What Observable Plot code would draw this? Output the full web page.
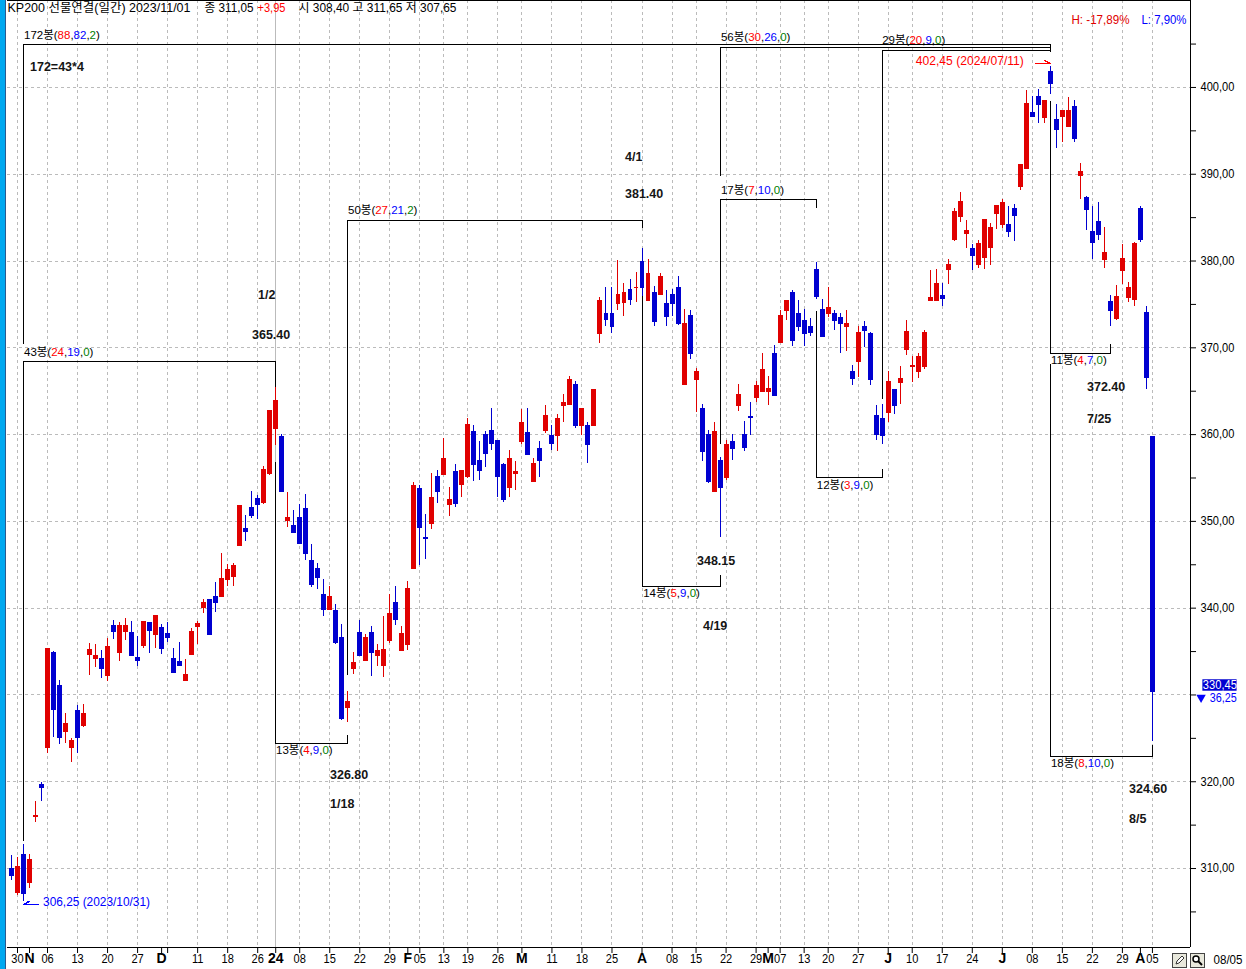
<!DOCTYPE html>
<html lang="ko">
<head>
<meta charset="utf-8">
<style>
html,body{margin:0;padding:0;background:#fff;overflow:hidden}
#wrap{position:relative;width:1246px;height:969px}
#stripe{position:absolute;left:0;top:0;width:5px;height:969px;background:#00a8f0;border-right:1px solid #2a5a90}
#tools{position:absolute;left:1172px;top:953px}
</style>
<script src="https://cdn.jsdelivr.net/npm/d3@7"></script>
<script src="https://cdn.jsdelivr.net/npm/@observablehq/plot@0.6"></script>
</head>
<body>
<div id="wrap"><div id="stripe"></div></div>
<script>
const opens=[310,307.2,311.65,308.4,316,319.7,324,334.9,331.1,325.8,
324,328.25,326.5,334.7,334.25,334.25,332.25,338.05,334.9,337.35,
337.2,334.35,335.75,338.4,337,337.8,337.1,334.25,333.9,331.7,
334.7,337.9,340.05,341.05,341.3,341.3,343.25,343.7,347.2,349.15,
351.55,352.6,352.15,355.5,360.65,359.75,350.15,349.5,350.4,351.45,
345.45,344.55,341.55,339.9,339.7,336.6,328.6,333,337.15,333.95,
337.15,334.6,333.45,336.25,340.6,335.1,335.8,344.55,353.75,348.1,
349.7,355.2,355.45,352,355.7,354.3,355.2,360.4,357.05,360.05,
360.5,359.35,356.5,353.85,355.55,359.15,360.2,354.55,358.35,360.5,
359.95,359.95,363.4,363.5,365.8,361.1,361.1,361,371.7,374,
373.9,375.05,375.25,376.75,376.9,380,375.4,376.4,376.2,375.05,
376.1,377,365.8,373.75,366.4,363.05,360.05,353.5,357.05,355.1,
359.15,363.3,360.05,362.05,364.3,365,365,369.4,370.65,374.35,
376.4,374,373.2,372.5,379.05,374.45,374,373.9,373.55,372.5,
367.3,368.45,372.5,371.7,362.25,361.8,362.6,365.15,365.95,369.75,
367.8,367.3,367.9,375.5,375.5,376.05,379.05,382.5,385.15,383.2,
381.45,379.6,380.4,381.6,385.5,384.25,384.25,386.1,388.6,390.7,
397.15,399,396.5,401.8,396.35,396.6,395.55,397.85,389.9,387.35,
383.45,384.6,380.2,375.35,373.4,378.9,375.8,375.6,386.1,374.1,
359.75];
const closes=[309.15,310.25,307.1,311.05,316.1,319.35,335.4,328.35,325.05,326.75,
324.8,325.05,327.9,335.25,334.6,333.1,335.6,337.35,338.05,338.05,
334.6,334,338.5,337.45,339.2,335.4,336.65,332.6,333.45,332.4,
337.35,338.25,340.6,336.95,340.7,343.4,344.5,344.9,351.8,348.8,
350.65,352,355.95,362.75,363.9,353.5,350.4,348.7,347.4,346.25,
342.7,343.5,339.9,341.4,336,327.25,329.2,333.7,334.5,336.6,
334.85,335.1,335.2,339.35,338.65,337.05,342.25,354.1,349.25,348,
352.8,353.4,357.3,352.55,352.1,355.9,361.2,356.6,355.9,357.85,
359,355.2,352.55,357.3,355.8,361.45,357.65,356.7,357.05,362.25,
359,361.8,363.65,366.4,361.1,363.05,358.9,365.15,375.5,373.3,
372.5,376.1,376.4,375.6,377,377,378.6,373,378.25,373.65,
375.15,372.75,372.85,369.3,367.3,358.1,354.65,360.4,353.95,358.9,
358.45,364.65,358.55,361.95,365.7,367.55,365.35,364.45,373.75,375.4,
370.9,372.4,371.6,371.8,375.95,371.35,374.7,373.2,372.85,372.85,
366.5,371.8,372.05,366.3,360.05,359.95,366.15,363.3,366.5,371.9,
368,368.95,371.8,375.85,377.45,375.7,379.65,385.75,386.9,383.55,
380.65,382.05,384.8,383.9,386.4,386.75,383.4,385.25,391.15,398.1,
396.7,398,398.45,400.5,395.2,397.3,397.3,394.15,390.35,385.95,
382.15,383.1,381,374.3,375.9,380.3,376.95,382.05,382.5,366.6,
330.45];
const highs=[311.5,311.25,312.75,311.65,317.7,319.9,335.4,335.05,331.7,327.9,
325,328.8,328.95,335.95,335.85,335.15,336.55,338.6,338.4,338.85,
338.5,336.75,338.5,338.4,339.2,338.15,338.4,335.4,336,334.1,
337.7,338.5,341.05,341.05,343,346.35,345,345.1,351.8,350.65,
353.4,352.95,356.3,362.75,365.4,360,353.3,351.2,352,353.05,
347.3,345.2,343.25,342.55,340.4,338.1,330.35,334.85,338.55,336.95,
337.85,335.8,339,341.55,342.55,337.85,343.05,354.45,354.1,350.85,
355.55,355.9,359.5,353.85,356.6,355.9,361.8,361,359.15,360.3,
363.05,359.35,356.7,358.2,356.95,362.85,362.95,357.3,359.25,363.4,
361.1,362.35,364.65,366.75,366.15,363.05,361.35,365.15,375.85,377,
376.9,380.1,377.45,377.9,378.7,381.4,380.2,377.1,378.6,376.55,
376.75,378.25,374.45,374.25,367.65,363.5,360.5,361.45,357.4,359.35,
360.05,365.8,361.55,363.65,366.15,369.3,366.65,370.3,374.25,375.5,
376.65,375.4,374.45,373.4,379.85,375.6,377,374.25,373.9,374.35,
368,372.5,373,371.8,363.4,363.5,367.3,365.15,367.9,373.2,
368.95,369.3,371.95,378.95,379.05,377.45,380.2,386,387.95,384.7,
381.95,382.4,384.8,384.35,386.4,387.1,386.3,386.55,391.15,399.6,
399,399.8,398.55,402.45,398,397.4,398.8,398.55,391.25,387.45,
386.3,386.75,383.9,376.05,377.2,381.9,377.55,382.15,386.3,374.75,
359.75];
const lows=[308.6,306.85,306.25,307.65,315.35,317.75,323.3,325.05,324.3,324.45,
322.25,323.3,326.3,332.25,333.15,331.95,331.6,336.4,333.9,336.3,
334.6,333.25,335.4,334.8,335.4,334.7,336.1,332.6,333.45,331.6,
334.7,335.85,339.35,336.8,339.45,341.3,342.45,342.45,347.2,347.65,
350.3,350.2,351.9,355.25,358.7,353.5,349.35,348.55,347.4,345.55,
342.35,342.1,339,339.8,335.8,327,326.8,332.3,334.4,333.95,
332.1,333.25,332,335.9,337.95,335.1,335.1,344.55,344.9,345.65,
349.1,352.1,355.35,350.6,351.65,352.8,354.9,354.65,354.75,356.25,
358.2,352.8,352.2,352.8,353.6,358.9,357.55,354.55,355,360.15,
358.2,358,361.45,363.4,360.75,359.85,356.7,361,370.55,372.5,
371.7,374.35,373.65,374.9,375.25,375.9,375.4,372.4,376.1,372.5,
373.65,372.6,365.8,368.6,362.6,356.85,354.4,353.5,348.15,354.75,
357.05,362.7,358.1,359.95,363.75,365,363.4,364.45,370.65,373.2,
370.2,371.9,370.1,371.35,375.6,371.25,373.55,372.05,369.3,369.6,
365.7,366.6,370,365.7,359.35,358.9,361.35,362.35,363.5,369.15,
365.95,366.5,367.45,375.5,375.5,374.8,377.25,382.25,384.45,381.45,
378.9,379.15,379.05,379.5,383.65,383.75,382.75,382.25,388.15,390.6,
396.6,395.8,395.9,399.15,393,393.7,395.45,393.7,387.1,383.55,
380.2,382.4,379.15,372.45,373.15,377.3,375.25,374.75,382.15,365.2,
324.6];

const weekTicks=[1,6,11,16,21,26,31,36,41,48,53,58,63,68,72,76,81,90,95,100,110,114,119,124,128,132,136,141,150,155,160,170,175,180,185,190];
const weekLabels=["30","06","13","20","27","","11","18","26","08","15","22","29","05","13","19","26","11","18","25","08","15","22","29","07","13","20","27","10","17","24","08","15","22","29","05"];
const monthTicks=[3,25,44,66,85,105,126,146,165,188];
const monthLabels=["N","D","24","F","M","A","M","J","J","A"];
const monthGrid=[85,105,146,165];
const yearLine=[44];
const priceMajor=[310,320,330,340,350,360,370,380,390,400];
const priceMinor=[305,315,325,335,345,355,365,375,385,395,405];

// bracket: start bar, start price, apex price, end bar, end price
const bracketStart=[2,2,44,56,105,118,118,134,145,173,173];
const bracketFrom=[370.5,313.25,356.8,332.3,376.05,358.9,389.85,374.2,364.1,398.4,368.1];
const bracketApex=[404.9,368.45,324.45,384.7,342.5,387.1,404.6,355,404.3,369.35,322.95];
const bracketEnd=[173,44,56,105,118,134,173,145,173,183,190];
const bracketTo=[404.1,365.4,325.35,383.75,343.8,386.1,404.1,356,404.1,370.4,324.2];

const countTexts=["172봉(88,82,2)","43봉(24,19,0)","50봉(27,21,2)","13봉(4,9,0)","14봉(5,9,0)","17봉(7,10,0)","56봉(30,26,0)","29봉(20,9,0)","12봉(3,9,0)","11봉(4,7,0)","18봉(8,10,0)"];
const countBars=[2.08,2.08,56.04,44.05,105.2,118.15,118.15,145,134.1,173.1,173.1];
const countPrices=[405.99,369.46,385.82,323.6,341.69,388.13,405.76,405.41,354.13,368.54,322.1];

const noteTexts=["172=43*4","1/2","365.40","326.80","1/18","4/1","381.40","348.15","4/19","372.40","7/25","324.60","8/5"];
const noteBars=[3.08,41.05,40.05,53.04,53.04,102.17,102.17,114.16,115.15,179.1,179.1,186.1,186.1];
const notePrices=[402.3,376.03,371.42,320.72,317.49,391.93,387.67,345.38,337.89,365.43,361.74,319.22,315.65];

const arrowBars=[[4.41,2.08,2.9],[170.6,173,172.1]];
const arrowPrices=[[305.85,305.85,306.2],[402.76,402.76,403.1]];
const UP="#e00000",DOWN="#0000d0";

const bars=closes.map((c,i)=>({i,o:opens[i],h:highs[i],l:lows[i],c,color:c>=opens[i]?UP:DOWN}));
const brackets=bracketStart.flatMap((s,k)=>[
 {k,b:s,p:bracketFrom[k]},{k,b:s,p:bracketApex[k]},{k,b:bracketEnd[k],p:bracketApex[k]},{k,b:bracketEnd[k],p:bracketTo[k]}]);
const counts=countTexts.map((t,k)=>({t,b:countBars[k],p:countPrices[k]}));
const notes=noteTexts.map((t,k)=>({t,b:noteBars[k],p:notePrices[k]}));
const arrows=arrowBars.flatMap((xs,k)=>xs.map((b,j)=>({k,b,p:arrowPrices[k][j]})));
const wFmt=d=>weekLabels[weekTicks.indexOf(d)];
const mFmt=d=>monthLabels[monthTicks.indexOf(d)];
const pFmt=d=>d===330?"":d3.format(".2f")(d).replace(".",",");
const FONT="'Liberation Sans','Noto Sans CJK KR',sans-serif";
const hdr=(t,dx,dy,fill)=>Plot.text([t],{frameAnchor:"top-left",dx,dy,fill,textAnchor:"start",lineAnchor:"middle",fontSize:12});
const widths={
 "KP200 선물연결(일간) 2023/11/01":183,"종 311,05":49,"+3,95":28,"시 308,40 고 311,65 저 307,65":158,
 "H: -17,89%":58,"L: 7,90%":45,"08/05":29,"306,25 (2023/10/31)":107,"402,45 (2024/07/11)":108,"330,45":34,"36,25":27
};

const svg=Plot.plot({
 width:1246,height:969,marginLeft:7,marginRight:56,marginTop:0,marginBottom:22,
 style:{background:"#fff",fontFamily:FONT,overflow:"visible",fontSize:"12px",color:"#000"},
 x:{domain:[-0.666,196.34],axis:null},
 y:{domain:[300.9,410.02],axis:null},
 marks:[
  Plot.ruleY(priceMajor,{stroke:"#bbb",strokeDasharray:"3,3",shapeRendering:"crispEdges"}),
  Plot.ruleX(weekTicks.concat(monthGrid),{stroke:"#bbb",strokeDasharray:"3,3",shapeRendering:"crispEdges"}),
  Plot.ruleX(yearLine,{stroke:"#bbb",shapeRendering:"crispEdges"}),
  Plot.line(brackets,{x:"b",y:"p",z:"k",stroke:"#000",strokeWidth:1,curve:"linear",shapeRendering:"crispEdges"}),
  Plot.ruleX(bars,{x:"i",y1:"l",y2:"h",stroke:"color",strokeWidth:1,shapeRendering:"crispEdges"}),
  Plot.rect(bars,{x1:d=>d.i-0.33,x2:d=>d.i+0.33,y1:"o",y2:"c",dx:0.5,dy:0.5,fill:"color",stroke:"color",strokeWidth:1,shapeRendering:"crispEdges"}),
  Plot.line(arrows.filter(d=>d.k===0),{x:"b",y:"p",stroke:"#0000ff",curve:"linear",shapeRendering:"crispEdges"}),
  Plot.line(arrows.filter(d=>d.k===1),{x:"b",y:"p",stroke:"#ff0000",curve:"linear",shapeRendering:"crispEdges"}),
  Plot.ruleY([300.9,410.02],{stroke:"#000",shapeRendering:"crispEdges"}),
  Plot.ruleX([196.34],{stroke:"#000",shapeRendering:"crispEdges"}),
  Plot.axisY({anchor:"right",ticks:priceMajor,tickFormat:pFmt,tickSize:5,tickPadding:5,label:null,fontSize:12,textStroke:"none"}),
  Plot.axisY({anchor:"right",ticks:priceMinor,tickFormat:()=>"",tickSize:5,label:null}),
  Plot.axisX({anchor:"bottom",ticks:weekTicks,tickFormat:wFmt,tickSize:6,tickPadding:1,label:null,fontSize:12}),
  Plot.axisX({anchor:"bottom",ticks:monthTicks,tickFormat:mFmt,tickSize:6,tickPadding:0,label:null,fontSize:14,fontWeight:"bold"}),
  Plot.text(counts,{x:"b",y:"p",text:"t",textAnchor:"start",fontSize:11.5,fill:"#000"}),
  Plot.text(notes,{x:"b",y:"p",text:"t",textAnchor:"start",fontSize:12.5,fontWeight:"bold",fill:"#151515"}),
  Plot.text(["306,25 (2023/10/31)"],{x:()=>5.25,y:()=>306.08,textAnchor:"start",fill:"#0000ff",fontSize:12}),
  Plot.text(["402,45 (2024/07/11)"],{x:()=>150.6,y:()=>403,textAnchor:"start",fill:"#ff0000",fontSize:12}),
  Plot.rect([closes[190]],{x1:()=>198.4,x2:()=>204.1,y1:()=>330.43,y2:()=>331.75,fill:"#0000d0"}),
  Plot.text(["330,45"],{x:()=>198.4,y:()=>331.1,textAnchor:"start",fill:"#fff",fontSize:12}),
  Plot.dot([0],{x:()=>198.1,y:()=>329.7,symbol:"triangle",rotate:180,r:3.5,fill:"#0000ff"}),
  Plot.text(["36,25"],{x:()=>199.55,y:()=>329.65,textAnchor:"start",fill:"#0000ff",fontSize:12}),
  hdr("KP200 선물연결(일간) 2023/11/01",0,8,"#000"),
  hdr("종 311,05",197,8,"#000"),
  hdr("+3,95",250,8,"#ff0000"),
  hdr("시 308,40 고 311,65 저 307,65",291,8,"#000"),
  hdr("H: -17,89%",1064,20,"#e00000"),
  hdr("L: 7,90%",1134,20,"#0000ff"),
  hdr("08/05",1206,960,"#000")
 ]
});
document.getElementById("wrap").appendChild(svg);
svg.style.position="absolute";svg.style.left="0";svg.style.top="0";
document.getElementById("stripe").style.zIndex=2;

d3.select(svg).selectAll("text").each(function(){
 const el=this, t=el.textContent;
 if(!t||getComputedStyle(el).fontWeight>=600) return;
 const m=t.match(/^(\d+봉\()(\d+)(,)(\d+)(,)(\d+)(\))$/);
 if(m){
  el.textContent="";
  [[m[1],"#000"],[m[2],"#f00"],[m[3],"#000"],[m[4],"#00f"],[m[5],"#000"],[m[6],"#008000"],[m[7],"#000"]].forEach(([s,c])=>{
   const ts=document.createElementNS("http://www.w3.org/2000/svg","tspan");ts.textContent=s;ts.setAttribute("fill",c);el.appendChild(ts);});
  return;
 }
 const w=widths[t]||el.getComputedTextLength()*0.92;
 el.setAttribute("textLength",w.toFixed(1));
 el.setAttribute("lengthAdjust","spacingAndGlyphs");
});

const tools=document.createElementNS("http://www.w3.org/2000/svg","svg");
tools.setAttribute("id","tools");tools.setAttribute("width","34");tools.setAttribute("height","15");
tools.style.position="absolute";
tools.innerHTML=`<rect x=".5" y=".5" width="14" height="14" fill="#e8e8dc" stroke="#444"/><path d="M4 11l1-3 5-5 2 2-5 5z" fill="#fff" stroke="#333"/>
<rect x="18.5" y=".5" width="14" height="14" fill="#e8e8dc" stroke="#444"/><circle cx="24" cy="6" r="3" fill="#fff" stroke="#000" stroke-width="1.5"/><path d="M26 8l4 4" stroke="#000" stroke-width="2"/>`;
document.getElementById("wrap").appendChild(tools);
</script>
</body>
</html>
